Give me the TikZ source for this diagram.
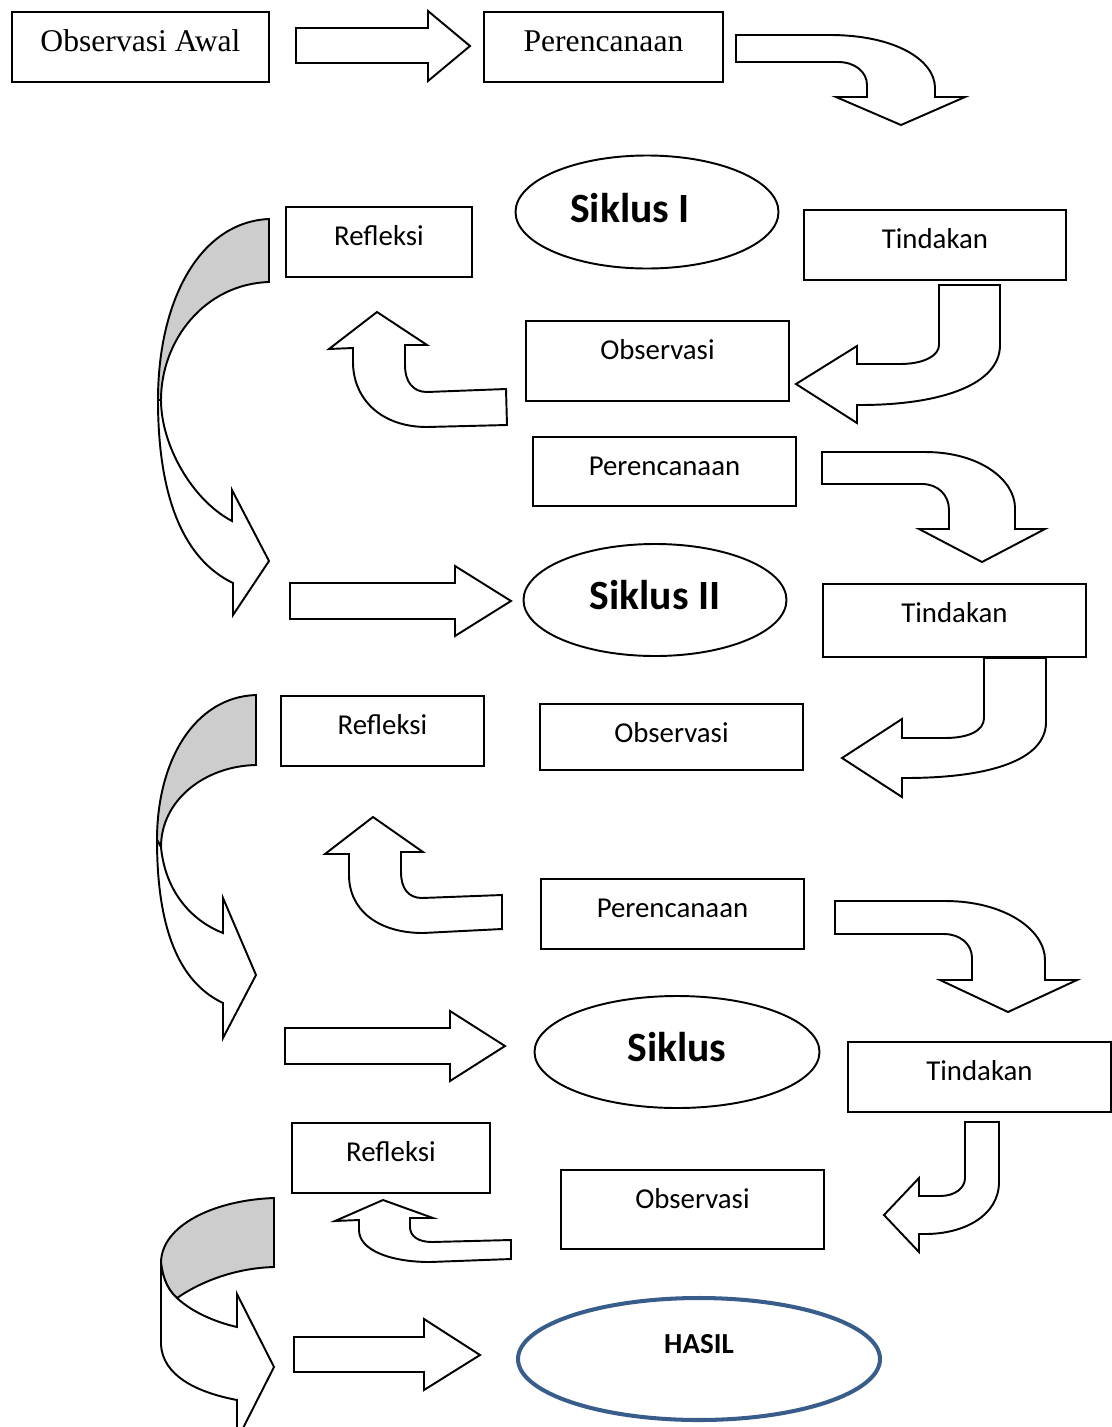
\documentclass[tikz,border=0pt]{standalone}
\usepackage{fontspec}
\setmainfont{Carlito}
\newfontfamily\timesfont{Liberation Serif}
\usepackage{tikz}
\usetikzlibrary{shapes.geometric,calc}
\newlength{\pxl}
\setlength{\pxl}{0.02cm}
\definecolor{hasilblue}{RGB}{56,93,138}
\definecolor{backgray}{RGB}{205,205,205}
\tikzset{
  box/.style={draw=black,line width=1.1pt,rectangle,inner sep=0pt,anchor=north west},
  boxtext/.style={font=\fontsize{16.4}{20}\selectfont,inner sep=0pt},
  sertext/.style={font=\timesfont\fontsize{18}{22}\selectfont,inner sep=0pt},
  siklus/.style={draw=black,line width=1.1pt,ellipse,inner sep=0pt},
  siktext/.style={font=\bfseries\fontsize{23.7}{28}\selectfont,inner sep=0pt},
  hasil/.style={siklus,draw=hasilblue,line width=2.3pt},
  hasiltext/.style={font=\bfseries\fontsize{16.5}{20}\selectfont,inner sep=0pt},
  blockarr/.style={draw=black,line width=1.1pt,fill=white},
  backside/.style={blockarr,fill=backgray}
}

\begin{document}
\begin{tikzpicture}[x=0.02cm,y=-0.02cm]
\useasboundingbox (0,0) rectangle (1112,1427);

% boxes
\node[box,minimum width=257\pxl,minimum height=70\pxl] (obsawal) at (11,11) {};
\node[sertext] (obsawal-t) at ($(obsawal.north)+(0,30)$) {Observasi Awal};
\node[box,minimum width=239\pxl,minimum height=70\pxl] (renc0) at (483,11) {};
\node[sertext] (renc0-t) at ($(renc0.north)+(0,30)$) {Perencanaan};

\node[box,minimum width=186\pxl,minimum height=70\pxl] (refl1) at (285,206) {};
\node[boxtext] (refl1-t) at ($(refl1.north)+(0,30)$) {Refleksi};
\node[box,minimum width=262\pxl,minimum height=70\pxl] (tind1) at (803,209) {};
\node[boxtext] (tind1-t) at ($(tind1.north)+(0,30)$) {Tindakan};
\node[box,minimum width=263\pxl,minimum height=80\pxl] (obs1) at (525,320) {};
\node[boxtext] (obs1-t) at ($(obs1.north)+(0,30)$) {Observasi};
\node[box,minimum width=263\pxl,minimum height=69\pxl] (renc1) at (532,436) {};
\node[boxtext] (renc1-t) at ($(renc1.north)+(0,30)$) {Perencanaan};

\node[box,minimum width=263\pxl,minimum height=73\pxl] (tind2) at (822,583) {};
\node[boxtext] (tind2-t) at ($(tind2.north)+(0,30)$) {Tindakan};
\node[box,minimum width=203\pxl,minimum height=70\pxl] (refl2) at (280,695) {};
\node[boxtext] (refl2-t) at ($(refl2.north)+(0,30)$) {Refleksi};
\node[box,minimum width=263\pxl,minimum height=66\pxl] (obs2) at (539,703) {};
\node[boxtext] (obs2-t) at ($(obs2.north)+(0,30)$) {Observasi};
\node[box,minimum width=263\pxl,minimum height=70\pxl] (renc2) at (540,878) {};
\node[boxtext] (renc2-t) at ($(renc2.north)+(0,30)$) {Perencanaan};

\node[box,minimum width=263\pxl,minimum height=70\pxl] (tind3) at (847,1041) {};
\node[boxtext] (tind3-t) at ($(tind3.north)+(0,30)$) {Tindakan};
\node[box,minimum width=198\pxl,minimum height=70\pxl] (refl3) at (291,1122) {};
\node[boxtext] (refl3-t) at ($(refl3.north)+(0,30)$) {Refleksi};
\node[box,minimum width=263\pxl,minimum height=79\pxl] (obs3) at (560,1169) {};
\node[boxtext] (obs3-t) at ($(obs3.north)+(0,30)$) {Observasi};

% ellipses
\node[siklus,minimum width=263\pxl,minimum height=113\pxl] (sik1) at (647,212) {};
\node[siktext] (sik1-t) at ($(sik1)+(-17,-4)$) {Siklus I};
\node[siklus,minimum width=263\pxl,minimum height=112\pxl] (sik2) at (655,600) {};
\node[siktext] (sik2-t) at ($(sik2)+(0,-5)$) {Siklus II};
\node[siklus,minimum width=285\pxl,minimum height=112\pxl] (sik3) at (677,1052) {};
\node[siktext] (sik3-t) at ($(sik3)+(0,-5)$) {Siklus};
\node[hasil,minimum width=362\pxl,minimum height=122\pxl] (hasil) at (699,1359) {};
\node[hasiltext] (hasil-t) at ($(hasil)+(0,-15)$) {HASIL};

% straight arrows
\draw[blockarr] (296,28) -- (428,28) -- (428,11) -- (470,46) -- (428,81) -- (428,63) -- (296,63) -- cycle;
\draw[blockarr] (290,583) -- (455,583) -- (455,566) -- (511,601) -- (455,636) -- (455,619) -- (290,619) -- cycle;
\draw[blockarr] (285,1028) -- (450,1028) -- (450,1011) -- (505,1046) -- (450,1081) -- (450,1064) -- (285,1064) -- cycle;
\draw[blockarr] (294,1337) -- (424,1337) -- (424,1319) -- (480,1355) -- (424,1390) -- (424,1372) -- (294,1372) -- cycle;

% right then down
\draw[blockarr] (736,35) -- (830,35) .. controls (895,35) and (935,60) .. (935,88) -- (935,97) -- (965,97) -- (901,125) -- (836,97) -- (867,97) -- (867,85) .. controls (867,72) and (855,62) .. (838,62) -- (736,62) -- cycle;
\draw[blockarr] (822,452) -- (925,452) .. controls (980,452) and (1015,480) .. (1015,508) -- (1015,529) -- (1045,529) -- (982,562) -- (919,529) -- (949,529) -- (949,510) .. controls (949,495) and (938,484) .. (922,484) -- (822,484) -- cycle;
\draw[blockarr] (835,901) -- (945,901) .. controls (1005,901) and (1045,930) .. (1045,960) -- (1045,980) -- (1077,980) -- (1008,1012) -- (940,980) -- (972,980) -- (972,958) .. controls (972,944) and (960,934) .. (944,934) -- (835,934) -- cycle;

% down then left
\draw[blockarr] (939,285) -- (1000,285) -- (1000,345) .. controls (1000,385) and (940,405) .. (860,405) -- (857,405) -- (857,423) -- (796,384) -- (857,346) -- (857,364) -- (900,364) .. controls (925,364) and (939,355) .. (939,345) -- cycle;
\draw[blockarr] (984,658) -- (1046,658) -- (1046,722) .. controls (1046,760) and (990,778) .. (905,778) -- (902,778) -- (902,797) -- (842,758) -- (902,719) -- (902,738) -- (945,738) .. controls (970,738) and (984,730) .. (984,718) -- cycle;
\draw[blockarr] (965,1122) -- (999,1122) -- (999,1182) .. controls (999,1215) and (965,1234) .. (925,1234) -- (919,1234) -- (919,1252) -- (884,1215) -- (919,1178) -- (919,1196) -- (940,1196) .. controls (955,1196) and (965,1188) .. (965,1178) -- cycle;

% left then up
\draw[blockarr] (506,389) -- (427,392) .. controls (413,392) and (405,382) .. (405,365) -- (405,345) -- (427,345) -- (377,312) -- (329,349) -- (353,348) -- (353,362) .. controls (353,398) and (380,427) .. (427,427) -- (507,425) -- cycle;
\draw[blockarr] (502,895) -- (422,898) .. controls (408,898) and (401,888) .. (401,872) -- (401,852) -- (423,852) -- (373,817) -- (325,854) -- (349,854) -- (349,875) .. controls (349,910) and (378,933) .. (423,933) -- (502,929) -- cycle;
\draw[blockarr] (511,1240) -- (432,1242) .. controls (418,1242) and (410,1236) .. (410,1227) -- (410,1218) -- (433,1218) -- (383,1200) -- (335,1221) -- (359,1220) -- (359,1230) .. controls (359,1250) and (390,1262) .. (430,1262) -- (511,1259) -- cycle;

% big curved arrows on the left
\draw[backside] (269,219) .. controls (200,222) and (158,300) .. (158,400) -- (161,400) .. controls (161,340) and (205,284) .. (269,282) -- cycle;
\draw[blockarr] (158,400) .. controls (158,500) and (185,560) .. (233,583) -- (233,615) -- (269,561) -- (232,490) -- (232,521) .. controls (192,500) and (161,445) .. (161,400) -- cycle;

\draw[backside] (256,695) .. controls (195,697) and (157,760) .. (157,840) -- (161,847) .. controls (161,800) and (205,766) .. (256,765) -- cycle;
\draw[blockarr] (157,840) .. controls (157,940) and (185,985) .. (223,1003) -- (223,1038) -- (256,975) -- (223,898) -- (223,933) .. controls (190,920) and (165,890) .. (161,847) -- cycle;

\draw[backside] (274,1198) .. controls (215,1200) and (161,1225) .. (161,1263) .. controls (163,1280) and (169,1291) .. (177,1298) .. controls (200,1282) and (235,1268) .. (274,1267) -- cycle;
\draw[blockarr] (161,1263) -- (161,1345) .. controls (163,1375) and (195,1392) .. (237,1400) -- (237,1440) -- (274,1367) -- (237,1294) -- (237,1327) .. controls (215,1322) and (192,1312) .. (177,1298) .. controls (169,1291) and (163,1280) .. (161,1263) -- cycle;

\end{tikzpicture}
\end{document}
